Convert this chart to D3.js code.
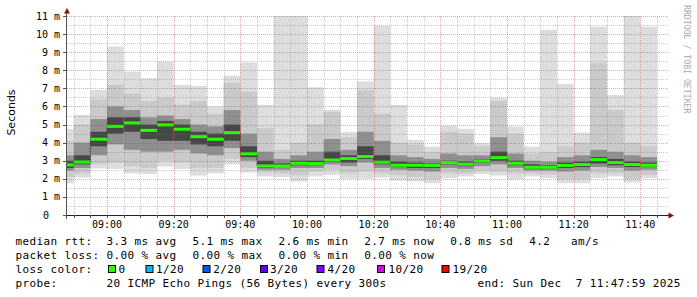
<!DOCTYPE html>
<html><head><meta charset="utf-8">
<script src="https://cdn.jsdelivr.net/npm/d3@7/dist/d3.min.js"></script>
<style>html,body{margin:0;padding:0;background:#fff;} svg{display:block;}</style>
</head><body><svg id="c" width="697" height="297"></svg>
<script>
// ---- data ----
const barEnds = ["08:50","08:55","09:00","09:05","09:10","09:15","09:20","09:25","09:30","09:35","09:40","09:45",
  "09:50","09:55","10:00","10:05","10:10","10:15","10:20","10:25","10:30","10:35","10:40","10:45",
  "10:50","10:55","11:00","11:05","11:10","11:15","11:20","11:25","11:30","11:35","11:40","11:45"];
const medianMs = [2.77,2.93,4.19,4.90,5.09,4.68,4.98,4.74,4.33,4.19,4.55,3.38,2.71,2.71,2.86,2.84,3.04,3.12,
  3.23,2.92,2.75,2.75,2.74,2.90,2.81,2.99,3.17,2.86,2.64,2.64,2.74,2.79,3.06,2.90,2.79,2.75];
const pingMin = [1.75,2.07,2.58,2.55,2.30,2.27,2.68,2.55,2.18,2.30,2.80,2.35,2.13,2.10,1.85,2.13,2.22,2.00,
  2.00,2.07,1.90,1.85,1.76,2.03,2.13,2.27,2.18,1.98,2.13,2.03,1.76,1.76,2.03,2.13,1.80,2.03];
const pingMax = [4.76,5.53,6.91,9.31,7.93,7.56,8.48,7.19,7.14,6.00,7.69,8.43,6.09,11.0,11.0,7.06,5.81,4.58,
  7.38,10.46,6.09,4.15,3.78,4.93,4.76,3.97,6.49,4.89,3.78,10.23,7.24,4.56,10.41,6.63,11.0,10.41];
const ping2Lo = [2.10,2.30,2.80,2.90,2.70,2.60,3.00,2.90,2.60,2.60,3.10,2.60,2.35,2.30,2.20,2.40,2.50,2.30,
  2.40,2.30,2.20,2.10,2.00,2.30,2.30,2.45,2.40,2.30,2.30,2.25,2.00,2.00,2.30,2.30,2.00,2.20];
const ping2Hi = [4.10,5.00,6.40,7.20,6.70,6.30,6.50,6.10,6.30,5.60,7.30,6.80,4.80,3.60,4.00,5.00,5.70,4.30,
  6.90,5.60,4.00,3.90,3.50,4.60,4.50,3.80,6.30,4.50,3.40,3.50,3.80,4.00,8.39,5.80,4.00,3.80];
const ping5Lo = [2.45,2.60,3.30,3.90,3.60,3.50,3.50,3.60,3.40,3.30,3.70,3.00,2.50,2.50,2.60,2.60,2.80,2.70,
  2.90,2.60,2.50,2.45,2.40,2.60,2.55,2.70,2.80,2.60,2.45,2.45,2.40,2.45,2.65,2.60,2.45,2.50];
const ping5Hi = [3.30,4.00,5.30,6.00,5.80,5.40,5.50,5.30,5.00,4.90,5.80,4.50,3.50,3.10,3.30,3.50,4.20,3.60,
  4.60,4.10,3.30,3.20,3.10,3.40,3.30,3.30,4.30,3.40,3.00,2.95,3.20,3.30,3.60,3.50,3.30,3.20];
const ping8Lo = [2.60,2.80,3.80,4.50,4.60,4.20,4.10,4.10,3.90,3.80,4.10,3.20,2.60,2.65,2.75,2.75,2.95,2.90,
  3.10,2.80,2.65,2.60,2.60,2.80,2.70,2.90,3.00,2.75,2.55,2.55,2.60,2.65,2.85,2.75,2.65,2.65];
const ping8Hi = [3.00,3.30,4.60,5.40,5.40,5.00,5.20,5.00,4.60,4.50,5.00,3.80,3.00,2.85,3.00,3.00,3.50,3.30,
  3.80,3.30,2.95,2.90,2.85,3.00,2.95,3.10,3.50,3.00,2.80,2.75,2.90,2.95,3.20,3.10,2.95,2.90];
const yTicks = [0,1,2,3,4,5,6,7,8,9,10,11];
const xTickLabels = ["09:00","09:20","09:40","10:00","10:20","10:40","11:00","11:20","11:40"];
const lossLabels = ["0","1/20","2/20","3/20","4/20","10/20","19/20"];
const lossColors = ["#26ff00","#00b8ff","#0059ff","#5e00ff","#7e00ff","#dd00ff","#ff0000"];
const rttStats = ["3.3 ms avg","5.1 ms max","2.6 ms min","2.7 ms now","0.8 ms sd","4.2","am/s"];
const lossStats = ["0.00 % avg","0.00 % max","0.00 % min","0.00 % now"];

// ---- chart ----
const svg = d3.select("#c");
const parse = d3.timeParse("%H:%M");
const x = d3.scaleTime().domain([parse("08:48"), parse("11:48")]).range([67, 667]);
const y = d3.scaleLinear().domain([0, 11]).range([215, 16]);
const mono = "'DejaVu Sans Mono', monospace";

svg.append("defs").append("clipPath").attr("id","plot")
  .append("rect").attr("x",67).attr("y",16).attr("width",600).attr("height",199);

const bars = barEnds.map((e,i) => {
  const t1 = parse(e), t0 = d3.timeMinute.offset(t1, -5);
  return {x0: x(t0), x1: x(t1), i};
});

const g = svg.append("g").attr("clip-path","url(#plot)");
const levels = [
  {lo: pingMin, hi: pingMax, c: "#dddddd"},
  {lo: ping2Lo, hi: ping2Hi, c: "#cacaca"},
  {lo: ping5Lo, hi: ping5Hi, c: "#8f8f8f"},
  {lo: ping8Lo, hi: ping8Hi, c: "#474747"}
];
levels.forEach(L => {
  g.selectAll(null).data(bars).enter().append("rect")
    .attr("x", d => d.x0).attr("width", d => d.x1 - d.x0)
    .attr("y", d => y(L.hi[d.i])).attr("height", d => y(L.lo[d.i]) - y(L.hi[d.i]))
    .attr("fill", L.c);
});

// grid (drawn over smoke)
const grid = svg.append("g");
const minorT = d3.timeMinute.every(5).range(parse("08:48"), parse("11:48"));
minorT.forEach(t => {
  const major = t.getMinutes() % 20 === 0;
  const xx = Math.round(x(t)) + 0.5;
  grid.append("line").attr("x1",xx).attr("x2",xx).attr("y1",16).attr("y2",215)
    .attr("stroke", major ? "rgba(225,40,40,0.42)" : "rgba(120,120,120,0.38)")
    .attr("stroke-dasharray","1,1");
});
d3.range(1, 23).forEach(k => {
  const v = k / 2;
  const major = k % 2 === 0;
  const yy = Math.round(y(v)) + 0.5;
  grid.append("line").attr("x1",67).attr("x2",668).attr("y1",yy).attr("y2",yy)
    .attr("stroke", major ? "rgba(225,40,40,0.42)" : "rgba(120,120,120,0.38)")
    .attr("stroke-dasharray","1,1");
});

// median step connector
const stepPts = bars.map(d => [Math.max(d.x0, 67), y(medianMs[d.i])]);
stepPts.push([bars[bars.length-1].x1, y(medianMs[medianMs.length-1])]);
g.append("path").attr("d", d3.line().curve(d3.curveStepAfter)(stepPts))
  .attr("fill","none").attr("stroke","#1a1a1a").attr("stroke-width",1).attr("stroke-dasharray","1,1");
// loss-coloured median
g.selectAll(null).data(bars).enter().append("line")
  .attr("x1", d => d.x0).attr("x2", d => d.x1)
  .attr("y1", d => y(medianMs[d.i])).attr("y2", d => y(medianMs[d.i]))
  .attr("stroke", lossColors[0]).attr("stroke-width", 3);

// axes
const ax = svg.append("g");
ax.append("line").attr("x1",63).attr("x2",669).attr("y1",215.5).attr("y2",215.5).attr("stroke","#222");
ax.append("line").attr("x1",66.5).attr("x2",66.5).attr("y1",219).attr("y2",12).attr("stroke","#555");
minorT.forEach(t => {
  const xx = Math.round(x(t)) + 0.5;
  ax.append("line").attr("x1",xx).attr("x2",xx).attr("y1",215).attr("y2",218).attr("stroke","#555");
});
yTicks.forEach(v => {
  const yy = Math.round(y(v)) + 0.5;
  ax.append("line").attr("x1",63).attr("x2",66).attr("y1",yy).attr("y2",yy).attr("stroke","#555");
});
ax.append("path").attr("d","M67,8 L64,13.5 L70,13.5 Z").attr("fill","#8b1010");
ax.append("path").attr("d","M674,215.5 L668.5,212.5 L668.5,218.5 Z").attr("fill","#8b1010");

// y labels
yTicks.forEach(v => {
  const t = svg.append("text").attr("y", y(v) + 3.5)
    .attr("font-family", mono).attr("font-size", 10).attr("fill","#000");
  if (v === 0) t.attr("x", 43).text("0");
  else t.attr("x", 60).attr("text-anchor","end").text(v + " m");
});
// x labels
xTickLabels.forEach(s => {
  svg.append("text").attr("x", x(parse(s))).attr("y", 228).attr("text-anchor","middle")
    .attr("font-family", mono).attr("font-size", 10).attr("fill","#000").text(s);
});
// y title
svg.append("text").attr("transform","translate(14.5,112.5) rotate(-90)").attr("text-anchor","middle")
  .attr("font-family","'DejaVu Sans', sans-serif").attr("font-size",11).attr("fill","#000").text("Seconds");
// watermark
svg.append("text").attr("transform","translate(684,5) rotate(90)")
  .attr("font-family", mono).attr("font-size", 8.2).attr("fill","#aaaaaa").text("RRDTOOL / TOBI OETIKER");

// legend
function lt(xp, yp, s) {
  svg.append("text").attr("x", xp).attr("y", yp).attr("font-family", mono).attr("font-size", 11)
    .attr("letter-spacing", 0.38).attr("fill","#000").attr("xml:space","preserve").text(s);
}
const rowY = [244.5, 258.5, 272.5, 286.5];
lt(15.5, rowY[0], "median rtt:");
const rttX = [106.5, 192.5, 278.5, 364.3, 450.3, 529.3, 571];
rttStats.forEach((s,i) => lt(rttX[i], rowY[0], s));
lt(15.5, rowY[1], "packet loss:");
lossStats.forEach((s,i) => lt(rttX[i], rowY[1], s));
lt(15.5, rowY[2], "loss color:");
const boxX = [108.5, 146, 203, 260.5, 317, 377.5, 442];
const lblX = [118.6, 156, 213.3, 270, 327.6, 388.6, 452.6];
lossLabels.forEach((s,i) => {
  svg.append("rect").attr("x", boxX[i]).attr("y", 265.5).attr("width", 7).attr("height", 7)
    .attr("fill", lossColors[i]).attr("stroke","#000");
  lt(lblX[i], rowY[2], s);
});
lt(15.5, rowY[3], "probe:");
lt(106.5, rowY[3], "20 ICMP Echo Pings (56 Bytes) every 300s");
lt(477.6, rowY[3], "end: Sun Dec  7 11:47:59 2025");
</script></body></html>
